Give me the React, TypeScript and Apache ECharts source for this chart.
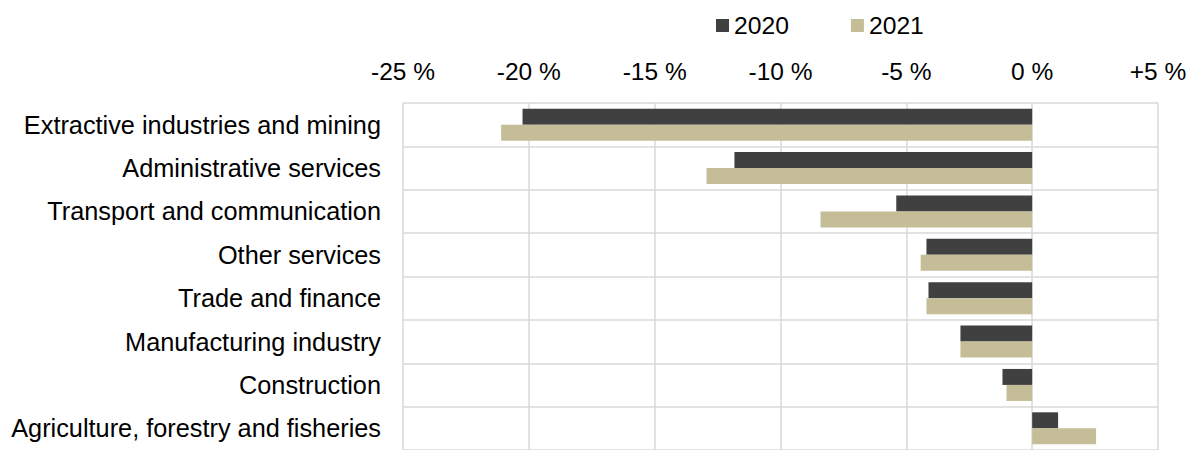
import React, { useEffect, useRef } from "react";
import * as echarts from "echarts";

const categories = [
  "Extractive industries and mining",
  "Administrative services",
  "Transport and communication",
  "Other services",
  "Trade and finance",
  "Manufacturing industry",
  "Construction",
  "Agriculture, forestry and fisheries",
];
const values2020 = [-20.25, -11.83, -5.4, -4.2, -4.12, -2.85, -1.18, 1.03];
const values2021 = [-21.1, -12.94, -8.41, -4.43, -4.2, -2.85, -1.02, 2.54];
const seriesNames = ["2020", "2021"];

const FONT = "'Liberation Sans', Arial, sans-serif";

export default function App() {
  const ref = useRef<HTMLDivElement>(null);
  useEffect(() => {
    document.body.style.margin = "0";
    const chart = echarts.init(ref.current!, null, { renderer: "svg" });
    chart.setOption({
      animation: false,
      backgroundColor: "#ffffff",
      textStyle: { fontFamily: FONT },
      legend: {
        data: seriesNames,
        left: 711,
        top: 8,
        itemWidth: 13,
        itemHeight: 13,
        itemGap: 62,
        icon: "rect",
        textStyle: { fontSize: 24.7, color: "#000", fontFamily: FONT },
      },
      grid: { left: 403, right: 34, top: 103, height: 352 },
      xAxis: {
        type: "value",
        position: "top",
        min: -25,
        max: 5,
        interval: 5,
        axisLine: { show: false },
        axisTick: { show: false },
        axisLabel: {
          fontSize: 24.5,
          color: "#000",
          fontFamily: FONT,
          margin: 19,
          formatter: (v: number) => (v > 0 ? "+" + v + " %" : v + " %"),
        },
        splitLine: { show: true, lineStyle: { color: "#d9d9d9", width: 1.5 } },
      },
      yAxis: {
        type: "category",
        data: categories,
        inverse: true,
        axisLine: { show: false },
        axisTick: { show: false },
        axisLabel: { fontSize: 25.3, color: "#000", fontFamily: FONT, margin: 22 },
        splitLine: { show: true, lineStyle: { color: "#d9d9d9", width: 1.5 } },
      },
      series: [
        {
          name: seriesNames[0],
          type: "bar",
          data: values2020,
          barWidth: 16,
          barGap: "0%",
          itemStyle: { color: "#404040" },
        },
        {
          name: seriesNames[1],
          type: "bar",
          data: values2021,
          barWidth: 16,
          barGap: "0%",
          itemStyle: { color: "#C4BD97" },
        },
      ],
    });
    return () => chart.dispose();
  }, []);
  return (
    <div
      ref={ref}
      style={{ position: "absolute", left: 0, top: 0, width: 1192, height: 450 }}
    />
  );
}
